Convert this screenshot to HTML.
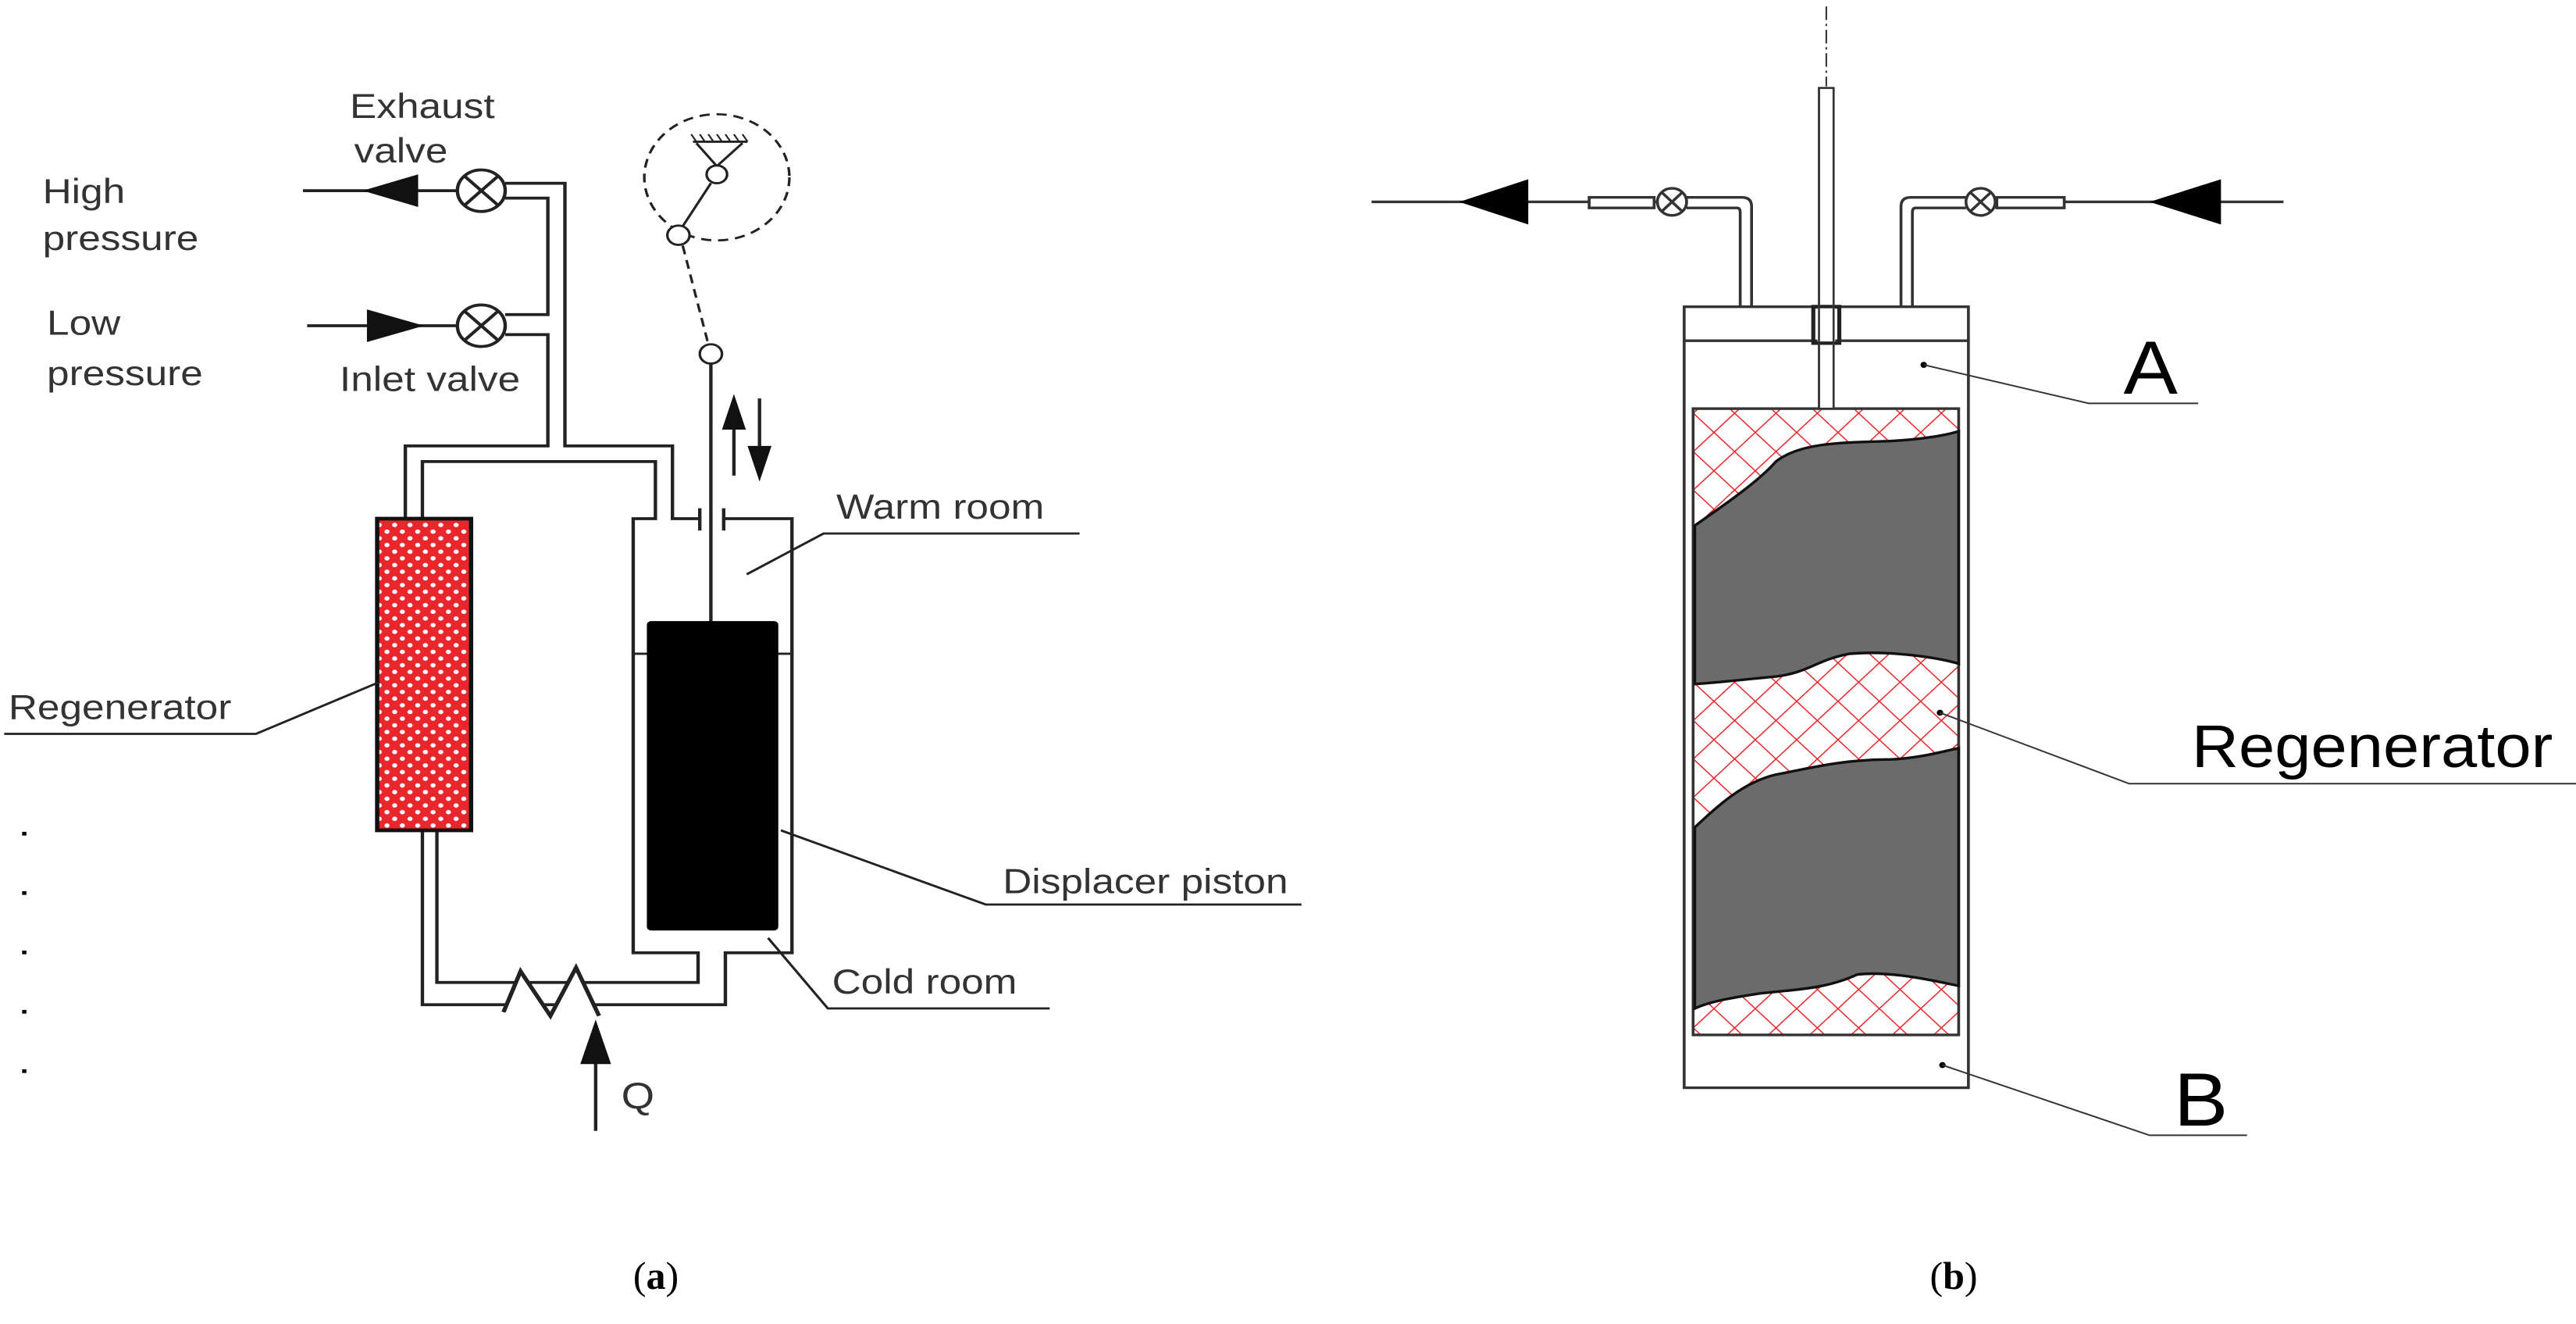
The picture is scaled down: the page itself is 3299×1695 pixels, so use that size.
<!DOCTYPE html>
<html><head><meta charset="utf-8"><style>html,body{margin:0;padding:0;background:#fff}svg{display:block}</style></head>
<body>
<svg width="3299" height="1695" viewBox="0 0 3299 1695" xmlns="http://www.w3.org/2000/svg" font-family="Liberation Sans, sans-serif">
<defs>
<pattern id="dots" width="18" height="18" patternUnits="userSpaceOnUse">
<rect width="18" height="18" fill="#e8262b"/>
<circle cx="4.5" cy="4.5" r="3" fill="#fff"/><circle cx="13.5" cy="13.5" r="3" fill="#fff"/>
</pattern>
<pattern id="hatch" width="36" height="36" patternUnits="userSpaceOnUse" patternTransform="rotate(45)">
<rect width="36" height="36" fill="#fff"/>
<line x1="0" y1="0" x2="36" y2="0" stroke="#e8262b" stroke-width="3"/>
<line x1="0" y1="0" x2="0" y2="36" stroke="#e8262b" stroke-width="3"/>
</pattern>
</defs>
<rect width="3299" height="1695" fill="#fff"/>

<!-- PANEL A -->
<g transform="translate(-11,18) scale(1.093,0.95)" stroke="#222" fill="none" stroke-width="4">
<g fill="#333" stroke="none" font-size="47">
<text x="420" y="140">Exhaust</text>
<text x="425" y="200">valve</text>
<text x="60" y="255">High</text>
<text x="60" y="318">pressure</text>
<text x="65" y="432">Low</text>
<text x="65" y="500">pressure</text>
<text x="408" y="508">Inlet valve</text>
<text x="990" y="680">Warm room</text>
<text x="20" y="950">Regenerator</text>
<text x="1185" y="1185">Displacer piston</text>
<text x="985" y="1320">Cold room</text>
<text x="738" y="1475" font-size="50">Q</text>
</g>
<line x1="365" y1="238" x2="546" y2="238"/>
<polygon points="435,238 500,216 500,260" fill="#111" stroke="none"/>
<line x1="370" y1="420" x2="546" y2="420"/>
<polygon points="507,420 440,398 440,442" fill="#111" stroke="none"/>
<circle cx="574" cy="238" r="28" fill="#fff"/>
<line x1="554" y1="218" x2="594" y2="258"/><line x1="594" y1="218" x2="554" y2="258"/>
<circle cx="574" cy="420" r="28" fill="#fff"/>
<line x1="554" y1="400" x2="594" y2="440"/><line x1="594" y1="400" x2="554" y2="440"/>
<path d="M602,228 H672 V582 H798 V680 H830"/>
<path d="M602,248 H652 V405 H602"/>
<path d="M602,432 H652 V582 H485 V680"/>
<path d="M505,680 V603 H778 V680 H752 V1265 H828 V1305 H522 V1100"/>
<path d="M505,1100 V1335 H860 V1265 H938 V680 H858"/>
<line x1="830" y1="666" x2="830" y2="696"/><line x1="858" y1="666" x2="858" y2="696"/>
<rect x="452" y="680" width="110" height="420" fill="url(#dots)" stroke="#111" stroke-width="5"/>
<line x1="843" y1="471" x2="843" y2="820"/>
<line x1="752" y1="862" x2="938" y2="862" stroke-width="3"/>
<rect x="768" y="818" width="154" height="417" rx="5" fill="#000" stroke="none"/>
<polyline points="600,1345 620,1290 655,1350 685,1285 712,1350" fill="#fff" stroke-width="5"/>
<line x1="708" y1="1505" x2="708" y2="1400"/>
<polygon points="708,1355 690,1415 726,1415" fill="#111" stroke="none"/>
<line x1="870" y1="622" x2="870" y2="545"/>
<polygon points="870,512 856,560 884,560" fill="#111" stroke="none"/>
<line x1="900" y1="518" x2="900" y2="595"/>
<polygon points="900,630 886,582 914,582" fill="#111" stroke="none"/>
<circle cx="850" cy="220" r="85" stroke-dasharray="12 8" stroke-width="3"/>
<line x1="822" y1="172" x2="886" y2="172" stroke-width="3"/>
<path d="M826,172 l-6,-10 M836,172 l-6,-10 M846,172 l-6,-10 M856,172 l-6,-10 M866,172 l-6,-10 M876,172 l-6,-10 M886,172 l-6,-10" stroke-width="2"/>
<path d="M826,174 L850,205 L880,174" stroke-width="3"/>
<circle cx="850" cy="216" r="12" fill="#fff" stroke-width="3"/>
<line x1="843" y1="228" x2="810" y2="286" stroke-width="3"/>
<circle cx="805" cy="298" r="13" fill="#fff" stroke-width="3"/>
<line x1="810" y1="312" x2="840" y2="445" stroke-dasharray="12 8" stroke-width="3"/>
<circle cx="843" cy="458" r="13" fill="#fff" stroke-width="3"/>
<polyline points="885,755 975,700 1275,700" stroke-width="3"/>
<polyline points="15,970 310,970 455,900" stroke-width="3"/>
<polyline points="925,1100 1165,1200 1535,1200" stroke-width="3"/>
<polyline points="910,1245 980,1340 1240,1340" stroke-width="3"/>
<g fill="#000" stroke="none">
<rect x="36" y="1102" width="5" height="5"/><rect x="36" y="1182" width="5" height="5"/><rect x="36" y="1262" width="5" height="5"/><rect x="36" y="1342" width="5" height="5"/><rect x="36" y="1422" width="5" height="5"/>
</g>
</g>

<!-- PANEL B -->
<g transform="translate(1692,-13) scale(1.04,0.966)" stroke="#333" fill="none" stroke-width="3.5">
<line x1="62" y1="281" x2="330" y2="281"/>
<polygon points="170,281 255,251 255,311" fill="#000" stroke="none"/>
<rect x="330" y="275" width="80" height="14" fill="#fff"/>
<line x1="410" y1="281" x2="414" y2="281"/>
<circle cx="432" cy="281" r="18" fill="#fff"/>
<line x1="419" y1="268" x2="445" y2="294"/><line x1="445" y1="268" x2="419" y2="294"/>
<path d="M450,275 H518 Q530,275 530,287 V420"/>
<path d="M450,289 H512 Q516,289 516,295 V420"/>
<line x1="915" y1="281" x2="1185" y2="281"/>
<polygon points="1020,281 1108,251 1108,311" fill="#000" stroke="none"/>
<rect x="832" y="275" width="83" height="14" fill="#fff"/>
<circle cx="812" cy="281" r="18" fill="#fff"/>
<line x1="799" y1="268" x2="825" y2="294"/><line x1="825" y1="268" x2="799" y2="294"/>
<path d="M794,275 H726 Q714,275 714,287 V420"/>
<path d="M794,289 H732 Q728,289 728,295 V420"/>
<rect x="447" y="420" width="350" height="1035" fill="#fff"/>
<line x1="447" y1="465" x2="797" y2="465"/>
<rect x="458" y="555" width="327" height="830" fill="url(#hatch)" stroke="#333"/>
<path d="M460,710 C500,680 540,650 560,625 C590,600 640,600 700,598 C740,596 770,590 785,585 L785,893 C760,885 700,875 650,880 C610,888 600,905 560,910 C520,914 490,918 460,920 Z" fill="#6b6b6b" stroke="#111"/>
<path d="M460,1110 C490,1080 520,1050 560,1040 C600,1032 640,1020 700,1020 C740,1018 770,1008 785,1005 L785,1320 C750,1312 700,1300 660,1305 C620,1325 580,1325 540,1330 C510,1335 480,1340 460,1350 Z" fill="#6b6b6b" stroke="#111"/>
<line x1="622" y1="22" x2="622" y2="128" stroke-dasharray="18 5 3 5" stroke-width="2"/>
<rect x="613" y="130" width="18" height="425" fill="#fff" stroke-width="2.5"/>
<rect x="606" y="420" width="32" height="48" fill="none" stroke="#222" stroke-width="5"/>
<rect x="611" y="422" width="22" height="44" fill="#fff" stroke="none"/>
<rect x="613" y="130" width="18" height="425" fill="none" stroke-width="2.5"/>
<circle cx="742" cy="497" r="4" fill="#000" stroke="none"/>
<polyline points="742,497 945,548 1080,548" stroke-width="2"/>
<circle cx="762" cy="958" r="4" fill="#000" stroke="none"/>
<polyline points="762,958 995,1052 1555,1052" stroke-width="2"/>
<circle cx="765" cy="1425" r="4" fill="#000" stroke="none"/>
<polyline points="765,1425 1020,1518 1140,1518" stroke-width="2"/>
<g fill="#000" stroke="none">
<text x="988" y="535" font-size="100">A</text>
<text x="1072" y="1030" font-size="80">Regenerator</text>
<text x="1050" y="1505" font-size="100">B</text>
</g>
</g>

<g font-family="Liberation Serif, serif" font-size="50" fill="#000" text-anchor="middle">
<text x="840" y="1650">(<tspan font-weight="bold">a</tspan>)</text>
<text x="2502" y="1650">(<tspan font-weight="bold">b</tspan>)</text>
</g>
</svg>
</body></html>
